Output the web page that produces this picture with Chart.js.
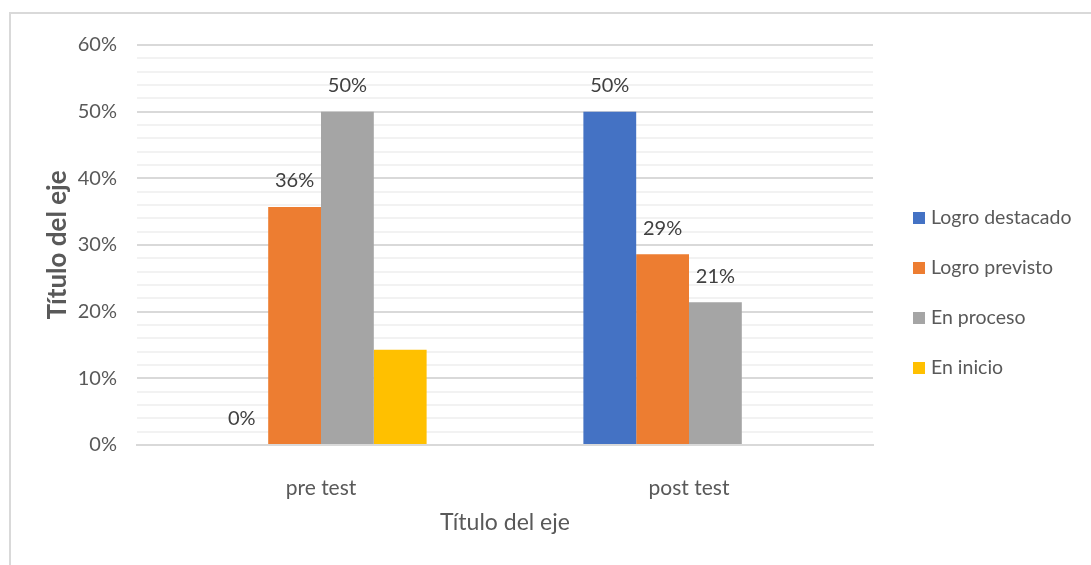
<!DOCTYPE html>
<html>
<head>
<meta charset="utf-8">
<script src="https://cdn.jsdelivr.net/npm/chart.js@4/dist/chart.umd.min.js"></script>
<style>
  html, body { margin: 0; padding: 0; background: #fff; }
  #wrap { position: relative; width: 1091px; height: 565px; overflow: hidden; }
  #frame { position: absolute; left: 9px; top: 12px; width: 1200px; height: 700px;
           border-top: 2px solid #d9d9d9; border-left: 2px solid #d9d9d9; }
  #myChart { position: absolute; left: 0; top: 0; }
</style>
</head>
<body>
<div id="wrap">
  <div id="frame"></div>
  <canvas id="myChart" width="1091" height="565"></canvas>
</div>
<script>
// categories and series (percent of students per level)
var categories = ["pre test", "post test"];
var logroDestacado = [0, 50];
var logroPrevisto = [35.7, 28.6];
var enProceso = [50, 21.4];
var enInicio = [14.3, 0];
var yTicks = [0, 10, 20, 30, 40, 50, 60];

var textColor = "#595959";
var fontFamily = "Lato, 'Open Sans', sans-serif";

// value labels above the bars (only for series with showValue)
var valueLabels = {
    id: "valueLabels",
    afterDatasetsDraw: function(chart) {
        var ctx = chart.ctx;
        ctx.save();
        ctx.font = "20px " + fontFamily;
        ctx.fillStyle = "#404040";
        ctx.textAlign = "center";
        ctx.textBaseline = "middle";
        chart.data.datasets.forEach(function(ds, i) {
            if (!ds.showValue) return;
            var meta = chart.getDatasetMeta(i);
            meta.data.forEach(function(bar, j) {
                ctx.fillText(Math.round(ds.data[j]) + "%", bar.x, bar.y - 26);
            });
        });
        ctx.restore();
    }
};

// legend on the right, one row per series
var sideLegend = {
    id: "sideLegend",
    afterDraw: function(chart) {
        var ctx = chart.ctx;
        var x = chart.chartArea.right + 40;
        var y = 218;
        ctx.save();
        ctx.font = "19.5px " + fontFamily;
        ctx.textBaseline = "middle";
        chart.data.datasets.forEach(function(ds) {
            ctx.fillStyle = ds.backgroundColor;
            ctx.fillRect(x, y - 6, 12, 12);
            ctx.fillStyle = textColor;
            ctx.fillText(ds.label, x + 18, y);
            y += 50;
        });
        ctx.restore();
    }
};

var ctx = document.getElementById("myChart").getContext("2d");
var myChart = new Chart(ctx, {
    type: "bar",
    data: {
        labels: categories,
        datasets: [
            { label: "Logro destacado", data: logroDestacado, backgroundColor: "#4472c4", showValue: true },
            { label: "Logro previsto", data: logroPrevisto, backgroundColor: "#ed7d31", showValue: true },
            { label: "En proceso", data: enProceso, backgroundColor: "#a5a5a5", showValue: true },
            { label: "En inicio", data: enInicio, backgroundColor: "#ffc000", showValue: false }
        ]
    },
    options: {
        responsive: false,
        animation: false,
        layout: { padding: { left: 42, right: 218, top: 45, bottom: 0 } },
        datasets: { bar: { categoryPercentage: 0.574, barPercentage: 1 } },
        plugins: { legend: { display: false }, tooltip: { enabled: false } },
        scales: {
            x: {
                grid: { display: false },
                border: { color: "#d9d9d9", width: 2 },
                ticks: { color: textColor, font: { family: fontFamily, size: 21 }, padding: 23 },
                title: { display: true, text: "Título del eje", color: textColor,
                         font: { family: fontFamily, size: 23 }, padding: { top: 0, bottom: 29 } },
                afterFit: function(scale) { scale.height = 120; }
            },
            y: {
                min: yTicks[0],
                max: yTicks[yTicks.length - 1],
                border: { display: false },
                grid: {
                    drawTicks: false,
                    lineWidth: 2,
                    color: function(c) { return c.tick.value % 10 === 0 ? "#d9d9d9" : "#f2f2f2"; }
                },
                ticks: {
                    stepSize: 2,
                    autoSkip: false,
                    padding: 20,
                    color: textColor,
                    font: { family: fontFamily, size: 20 },
                    callback: function(v) { return yTicks.indexOf(v) >= 0 ? v + "%" : ""; }
                },
                title: { display: true, text: "Título del eje", color: textColor,
                         font: { family: fontFamily, size: 26, weight: "bold" }, padding: { top: 0, bottom: 0 } },
                afterFit: function(scale) { scale.width = 95; }
            }
        }
    },
    plugins: [valueLabels, sideLegend]
});
</script>
</body>
</html>
